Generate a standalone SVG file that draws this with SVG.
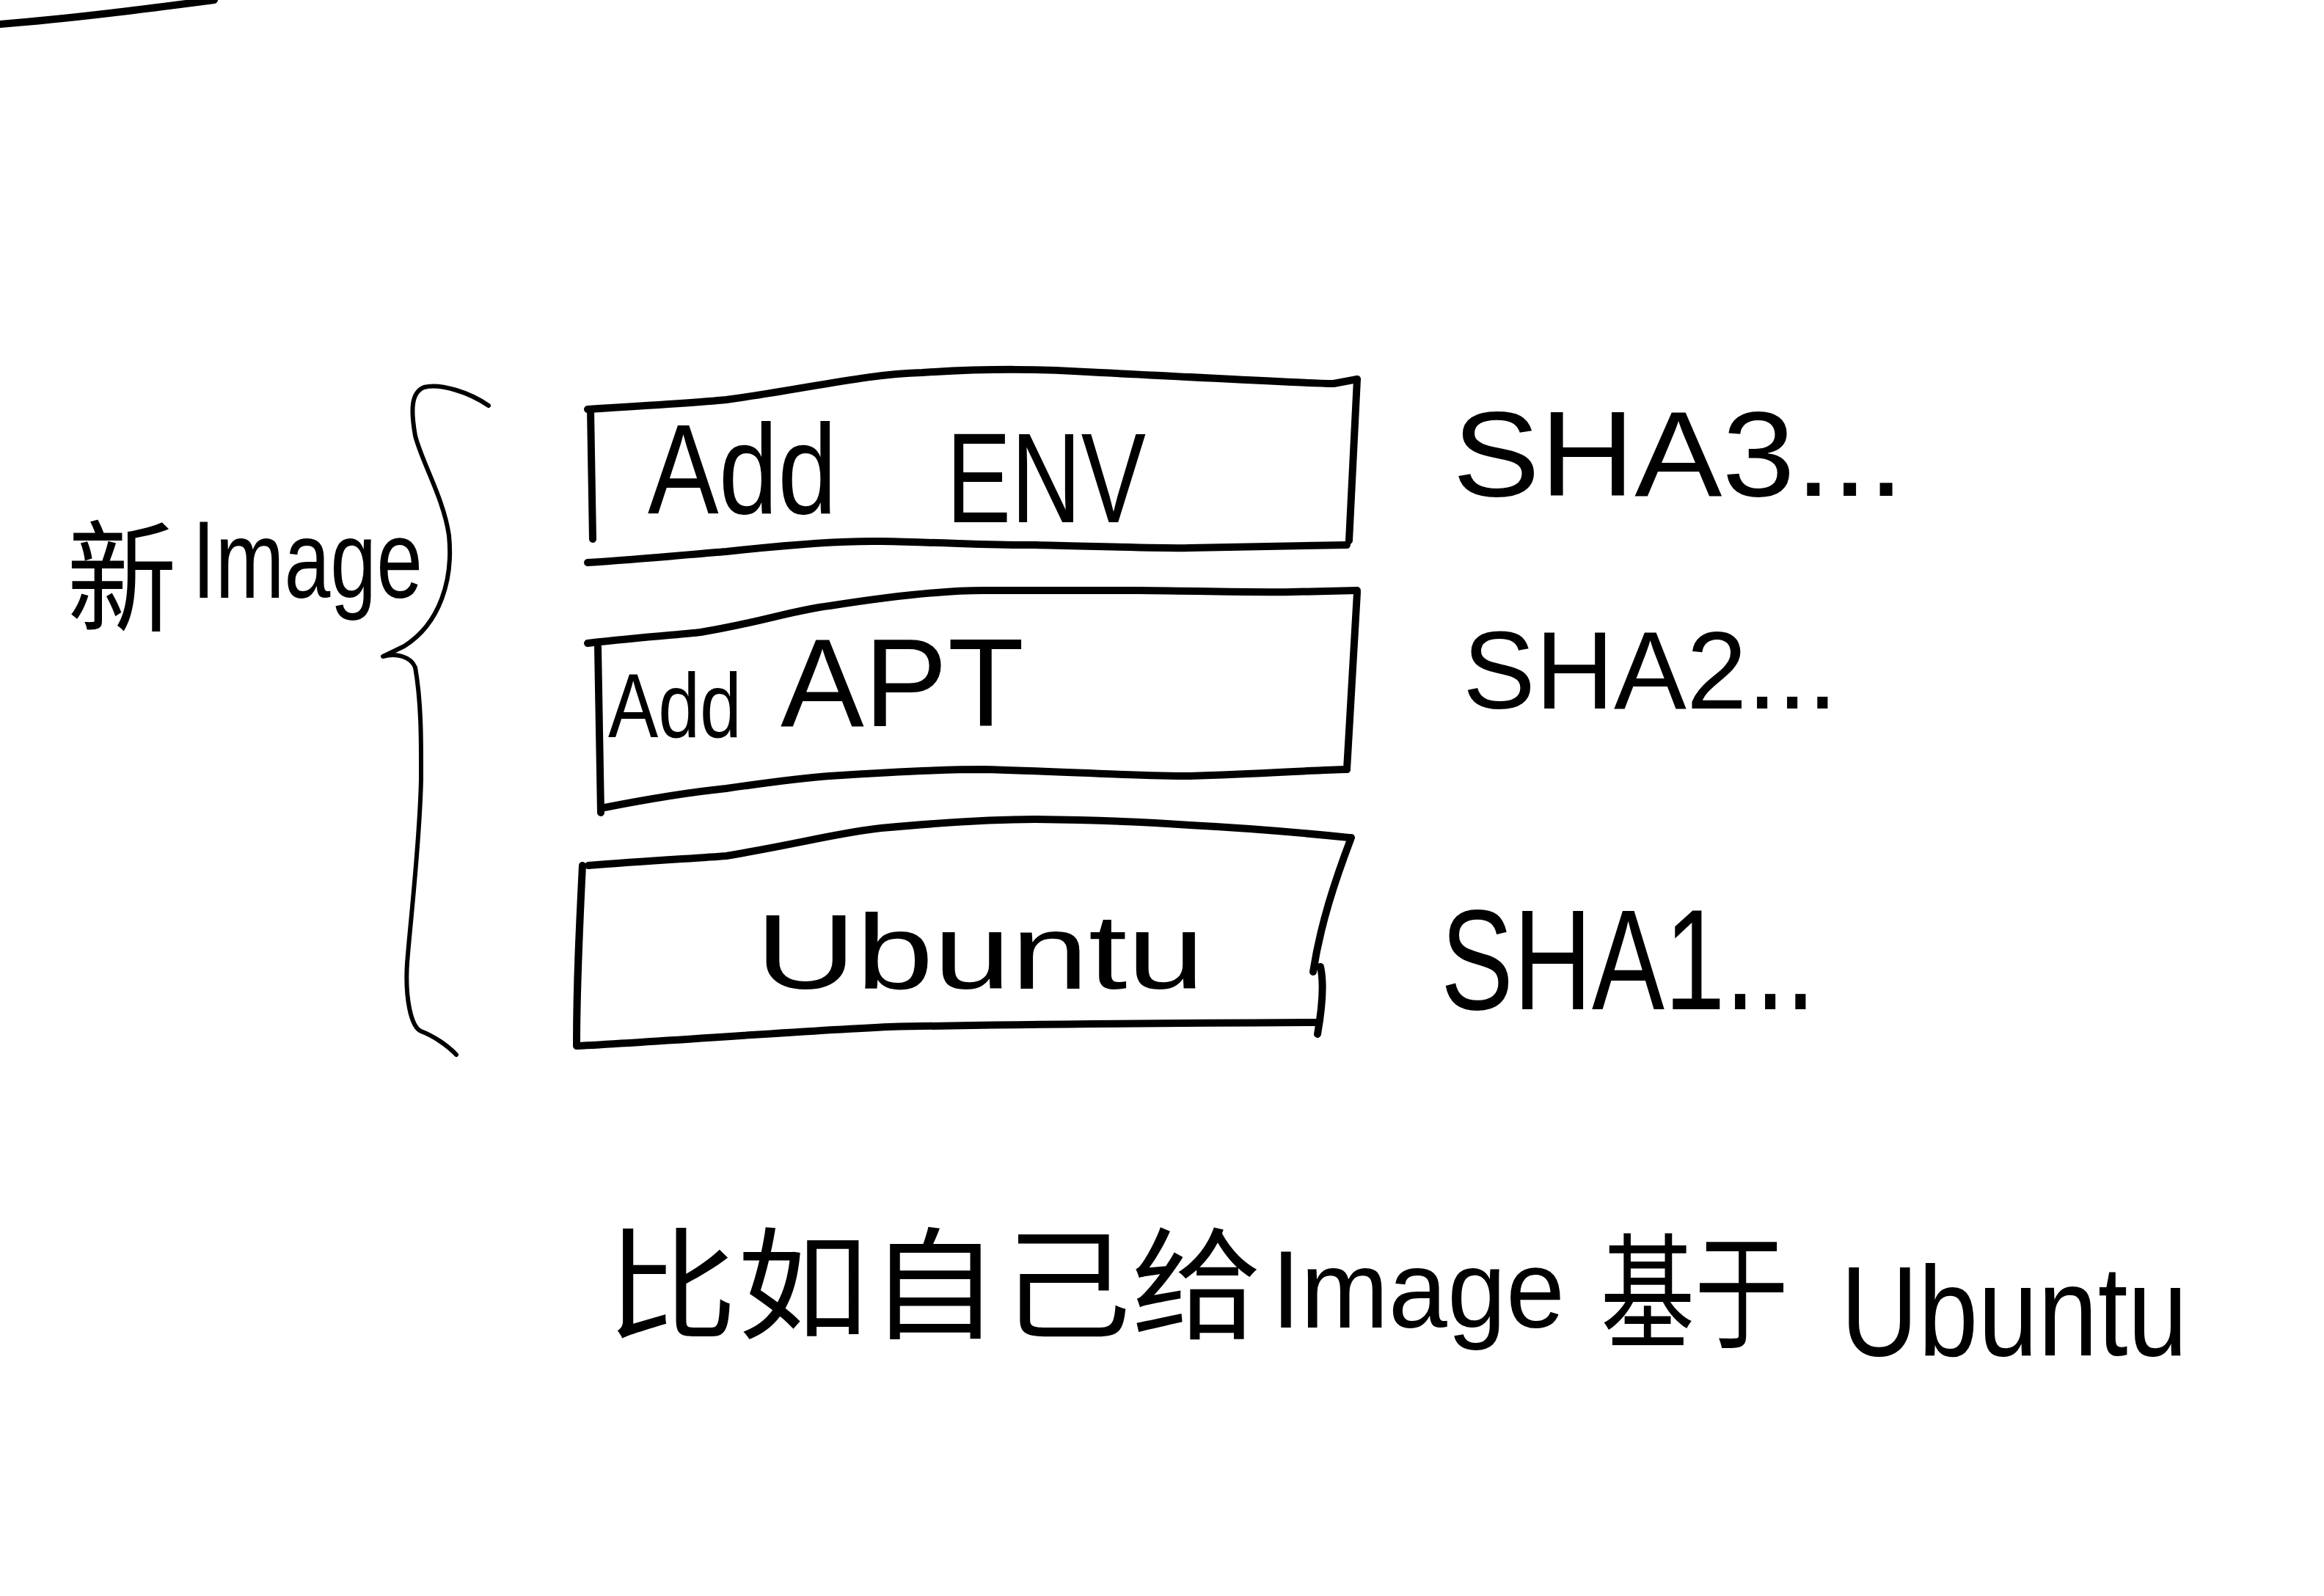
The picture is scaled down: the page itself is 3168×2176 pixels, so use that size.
<svg xmlns="http://www.w3.org/2000/svg" width="3168" height="2176" viewBox="0 0 3168 2176">
<style>
.ln{fill:none;stroke:#000;stroke-width:10;stroke-linecap:round;stroke-linejoin:round}
.br{fill:none;stroke:#000;stroke-width:6;stroke-linecap:round;stroke-linejoin:round}
.t{font-family:"Liberation Sans","Noto Sans CJK SC",sans-serif;fill:#000}
</style>
<rect width="3168" height="2176" fill="#fff"/>
<g id="top-line">
<path class="ln" d="M0,33 C100,25 200,12 292,0"/>
</g>
<g id="connectors">
<path id="brace" class="br" d="M666,553 C640,535 600,522 578,528 C560,535 560,560 566,594 C575,630 605,680 612,730 C618,790 600,850 551,881 L522,895 C540,890 560,895 566,910 C575,960 574,1020 574,1063 C572,1150 560,1250 555,1313 C552,1360 560,1400 574,1406 C590,1412 610,1425 622,1438"/>
</g>
<g id="label-new-image">
<text class="t"><tspan x="91" y="848" font-size="165" textLength="150" lengthAdjust="spacingAndGlyphs">新</tspan><tspan x="262" y="815" font-size="150" textLength="314" lengthAdjust="spacingAndGlyphs">Image</tspan></text>
</g>
<g id="layer-env">
<path class="ln" d="M801,558 C900,552 960,548 990,545 C1100,530 1180,510 1257,508 C1350,502 1420,503 1500,508 C1650,515 1760,522 1818,523 L1850,517"/>
<path class="ln" d="M805,558 L808,735"/>
<path class="ln" d="M1850,517 L1839,737"/>
<path class="ln" d="M801,767 C880,762 950,755 990,752 C1080,742 1150,737 1201,738 C1300,740 1360,744 1411,743 C1500,745 1600,748 1622,747 L1836,743"/>
<text class="t" y="700" font-size="175"><tspan x="883" textLength="258" lengthAdjust="spacingAndGlyphs">Add</tspan> <tspan x="1290" y="712" textLength="272" lengthAdjust="spacingAndGlyphs">ENV</tspan></text>
</g>
<g id="layer-apt">
<path class="ln" d="M801,877 C880,868 930,865 955,862 C1040,848 1080,832 1131,826 C1220,812 1290,805 1341,805 L1552,805 C1650,806 1720,808 1762,807 L1850,805"/>
<path class="ln" d="M815,882 L819,1108"/>
<path class="ln" d="M1850,808 L1836,1049"/>
<path class="ln" d="M819,1102 C880,1090 940,1080 990,1075 C1060,1065 1100,1060 1131,1058 C1220,1052 1290,1049 1341,1049 C1450,1052 1550,1058 1622,1058 C1720,1055 1790,1050 1836,1049"/>
<text class="t"><tspan x="829" y="1005" font-size="125" textLength="182" lengthAdjust="spacingAndGlyphs">Add</tspan> <tspan x="1064" y="990" font-size="170" textLength="332" lengthAdjust="spacingAndGlyphs">APT</tspan></text>
</g>
<g id="layer-ubuntu">
<path class="ln" d="M802,1180 C880,1174 950,1170 990,1167 C1090,1150 1150,1134 1201,1129 C1300,1120 1360,1117 1411,1117 C1500,1118 1580,1122 1622,1125 C1720,1130 1800,1138 1839,1142"/>
<path class="ln" d="M794,1180 C790,1260 786,1340 786,1424"/>
<path class="ln" d="M1842,1142 C1820,1200 1800,1260 1790,1325 M1800,1318 C1805,1340 1803,1370 1796,1410"/>
<path class="ln" d="M786,1426 C900,1420 1100,1405 1212,1400 C1400,1396 1600,1395 1798,1394"/>
<text class="t" x="1030" y="1348" font-size="145" textLength="612" lengthAdjust="spacingAndGlyphs">Ubuntu</text>
</g>
<g id="sha3">
<text class="t" x="1980" y="676" font-size="165" textLength="616" lengthAdjust="spacingAndGlyphs">SHA3...</text>
</g>
<g id="sha2">
<text class="t" x="1994" y="966" font-size="150" textLength="511" lengthAdjust="spacingAndGlyphs">SHA2...</text>
</g>
<g id="sha1">
<text class="t" x="1964" y="1376" font-size="195" textLength="511" lengthAdjust="spacingAndGlyphs">SHA1...</text>
</g>
<g id="caption">
<text class="t" font-size="165"><tspan x="826" y="1812" textLength="895" lengthAdjust="spacingAndGlyphs">比如自己给</tspan><tspan x="1733" y="1810" font-size="150" textLength="400" lengthAdjust="spacingAndGlyphs">Image</tspan><tspan x="2182" y="1825" font-size="170" textLength="256" lengthAdjust="spacingAndGlyphs">基于</tspan><tspan x="2509" y="1848" font-size="175" textLength="473" lengthAdjust="spacingAndGlyphs">Ubuntu</tspan></text>
</g>
</svg>
